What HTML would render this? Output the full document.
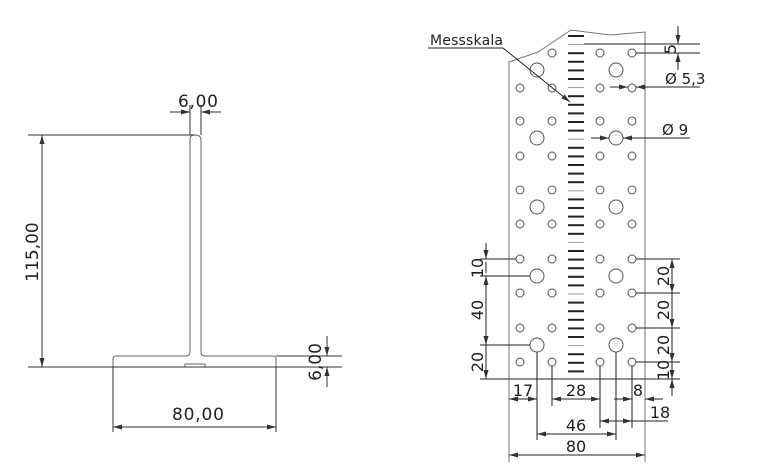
<!DOCTYPE html>
<html><head><meta charset="utf-8"><style>
html,body{margin:0;padding:0;background:#fff;}
svg{display:block;}
text{font-family:"DejaVu Sans","Liberation Sans",sans-serif;fill:#222;}
</style></head><body>
<svg width="762" height="470" viewBox="0 0 762 470" xmlns="http://www.w3.org/2000/svg">
<defs>
<marker id="a" viewBox="0 0 9 5" refX="9" refY="2.5" markerWidth="9" markerHeight="5" orient="auto-start-reverse" markerUnits="userSpaceOnUse"><path d="M0,0 L9,2.5 L0,5 z" fill="#333"/></marker>
</defs>
<g stroke="#333" stroke-width="1" fill="none">
<path d="M113,359 Q113,356 116,356 L186,356 Q190,356 190,352 L190,139 Q190,135 195,135 Q201,135 201,140 L201,352 Q201,356 205,356 L273,356 Q276,356 276,359 L276,367" stroke="#666"/>
<line x1="113" y1="359" x2="113" y2="367" stroke="#666"/>
<rect x="185" y="364" width="20" height="3" stroke="#666"/>
<line x1="28" y1="367" x2="342" y2="367"/>
<line x1="28" y1="135" x2="195" y2="135"/>
<line x1="42" y1="135" x2="42" y2="367" marker-start="url(#a)" marker-end="url(#a)"/>
<line x1="190" y1="105" x2="190" y2="135"/>
<line x1="201" y1="105" x2="201" y2="135"/>
<line x1="170" y1="112" x2="190" y2="112" marker-end="url(#a)"/>
<line x1="221" y1="112" x2="201" y2="112" marker-end="url(#a)"/>
<line x1="113" y1="367" x2="113" y2="432"/>
<line x1="276" y1="367" x2="276" y2="432"/>
<line x1="113" y1="427" x2="276" y2="427" marker-start="url(#a)" marker-end="url(#a)"/>
<line x1="276" y1="356" x2="342" y2="356"/>
<line x1="327" y1="336" x2="327" y2="356" marker-end="url(#a)"/>
<line x1="327" y1="387" x2="327" y2="367" marker-end="url(#a)"/>
</g>
<text x="178" y="107" font-size="17" textLength="40">6,00</text>
<text x="172" y="420" font-size="17" textLength="52">80,00</text>
<text transform="translate(38,252) rotate(-90)" font-size="17" text-anchor="middle">115,00</text>
<text transform="translate(321,362) rotate(-90)" font-size="17" text-anchor="middle">6,00</text>

<g stroke="#444" stroke-width="1" fill="none">
<path d="M509,462 L509,62 L538,52 L571,30 L610,35 L645,32 L645,462" stroke="#777"/>
</g>
<g stroke="#222" stroke-width="2">
<line x1="568" y1="36" x2="584" y2="36"/><line x1="568" y1="44.6" x2="584" y2="44.6" stroke="#999" stroke-width="1"/>
<line x1="568" y1="53.2" x2="584" y2="53.2"/><line x1="568" y1="61.8" x2="584" y2="61.8"/>
<line x1="568" y1="70.4" x2="584" y2="70.4"/><line x1="568" y1="79" x2="584" y2="79"/>
<line x1="568" y1="87.6" x2="584" y2="87.6" stroke="#999" stroke-width="1"/><line x1="568" y1="96.2" x2="584" y2="96.2"/>
<line x1="568" y1="104.8" x2="584" y2="104.8"/><line x1="568" y1="113.4" x2="584" y2="113.4"/>
<line x1="568" y1="122" x2="584" y2="122"/><line x1="568" y1="130.6" x2="584" y2="130.6"/>
<line x1="568" y1="139.2" x2="584" y2="139.2" stroke="#999" stroke-width="1"/><line x1="568" y1="147.8" x2="584" y2="147.8"/>
<line x1="568" y1="156.4" x2="584" y2="156.4"/><line x1="568" y1="165" x2="584" y2="165"/>
<line x1="568" y1="173.6" x2="584" y2="173.6"/><line x1="568" y1="182.2" x2="584" y2="182.2"/>
<line x1="568" y1="190.8" x2="584" y2="190.8" stroke="#999" stroke-width="1"/><line x1="568" y1="199.4" x2="584" y2="199.4"/>
<line x1="568" y1="208" x2="584" y2="208"/><line x1="568" y1="216.6" x2="584" y2="216.6"/>
<line x1="568" y1="225.2" x2="584" y2="225.2"/><line x1="568" y1="233.8" x2="584" y2="233.8"/>
<line x1="568" y1="242.4" x2="584" y2="242.4" stroke="#999" stroke-width="1"/><line x1="568" y1="251" x2="584" y2="251"/>
<line x1="568" y1="259.6" x2="584" y2="259.6"/><line x1="568" y1="268.2" x2="584" y2="268.2"/>
<line x1="568" y1="276.8" x2="584" y2="276.8"/><line x1="568" y1="285.4" x2="584" y2="285.4"/>
<line x1="568" y1="294" x2="584" y2="294" stroke="#999" stroke-width="1"/><line x1="568" y1="302.6" x2="584" y2="302.6"/>
<line x1="568" y1="311.2" x2="584" y2="311.2"/><line x1="568" y1="319.8" x2="584" y2="319.8"/>
<line x1="568" y1="328.4" x2="584" y2="328.4"/><line x1="568" y1="337" x2="584" y2="337"/>
<line x1="568" y1="345.6" x2="584" y2="345.6" stroke="#999" stroke-width="1"/><line x1="568" y1="354.2" x2="584" y2="354.2"/>
<line x1="568" y1="362.8" x2="584" y2="362.8"/><line x1="568" y1="371.4" x2="584" y2="371.4"/>
</g>
<g stroke="#555" stroke-width="1" fill="none">
<circle cx="552" cy="53" r="4"/><circle cx="600" cy="53" r="4"/><circle cx="632" cy="53" r="4"/>
<circle cx="520" cy="88" r="4"/><circle cx="552" cy="88" r="4"/><circle cx="600" cy="88" r="4"/><circle cx="632" cy="88" r="4"/>
<circle cx="520" cy="121" r="4"/><circle cx="552" cy="121" r="4"/><circle cx="600" cy="121" r="4"/><circle cx="632" cy="121" r="4"/>
<circle cx="520" cy="156" r="4"/><circle cx="552" cy="156" r="4"/><circle cx="600" cy="156" r="4"/><circle cx="632" cy="156" r="4"/>
<circle cx="520" cy="190" r="4"/><circle cx="552" cy="190" r="4"/><circle cx="600" cy="190" r="4"/><circle cx="632" cy="190" r="4"/>
<circle cx="520" cy="224" r="4"/><circle cx="552" cy="224" r="4"/><circle cx="600" cy="224" r="4"/><circle cx="632" cy="224" r="4"/>
<circle cx="520" cy="259" r="4"/><circle cx="552" cy="259" r="4"/><circle cx="600" cy="259" r="4"/><circle cx="632" cy="259" r="4"/>
<circle cx="520" cy="293" r="4"/><circle cx="552" cy="293" r="4"/><circle cx="600" cy="293" r="4"/><circle cx="632" cy="293" r="4"/>
<circle cx="520" cy="328" r="4"/><circle cx="552" cy="328" r="4"/><circle cx="600" cy="328" r="4"/><circle cx="632" cy="328" r="4"/>
<circle cx="520" cy="362" r="4"/><circle cx="552" cy="362" r="4"/><circle cx="600" cy="362" r="4"/><circle cx="632" cy="362" r="4"/>
<circle cx="537" cy="70" r="7"/><circle cx="616" cy="70" r="7"/>
<circle cx="537" cy="138" r="7"/><circle cx="616" cy="138" r="7"/>
<circle cx="537" cy="207" r="7"/><circle cx="616" cy="207" r="7"/>
<circle cx="537" cy="276" r="7"/><circle cx="616" cy="276" r="7"/>
<circle cx="537" cy="345" r="7"/><circle cx="616" cy="345" r="7"/>
</g>
<g stroke="#222" stroke-width="1" fill="none">
<line x1="428" y1="48" x2="503" y2="48"/>
<line x1="503" y1="48" x2="570" y2="102" marker-end="url(#a)"/>
<line x1="584" y1="44" x2="700" y2="44"/>
<line x1="636" y1="53" x2="700" y2="53"/>
<line x1="678" y1="26" x2="678" y2="44" marker-end="url(#a)"/>
<line x1="678" y1="70" x2="678" y2="53" marker-end="url(#a)"/>
<line x1="610" y1="87" x2="628" y2="87" marker-end="url(#a)"/>
<line x1="700" y1="87" x2="636" y2="87" marker-end="url(#a)"/>
<line x1="591" y1="138" x2="609" y2="138" marker-end="url(#a)"/>
<line x1="690" y1="138" x2="623" y2="138" marker-end="url(#a)"/>
<line x1="480" y1="259" x2="516" y2="259"/>
<line x1="480" y1="276" x2="530" y2="276"/>
<line x1="480" y1="345" x2="530" y2="345"/>
<line x1="480" y1="379" x2="680" y2="379"/>
<line x1="486" y1="243" x2="486" y2="259" marker-end="url(#a)"/>
<line x1="486" y1="276" x2="486" y2="345" marker-start="url(#a)" marker-end="url(#a)"/>
<line x1="486" y1="262" x2="486" y2="273"/>
<line x1="486" y1="345" x2="486" y2="379" marker-end="url(#a)"/>
<line x1="636" y1="259" x2="680" y2="259"/>
<line x1="636" y1="293" x2="680" y2="293"/>
<line x1="636" y1="328" x2="680" y2="328"/>
<line x1="636" y1="362" x2="680" y2="362"/>
<line x1="672" y1="259" x2="672" y2="293" marker-start="url(#a)" marker-end="url(#a)"/>
<line x1="672" y1="293" x2="672" y2="328" marker-end="url(#a)"/>
<line x1="672" y1="328" x2="672" y2="362" marker-end="url(#a)"/>
<line x1="672" y1="362" x2="672" y2="379" marker-end="url(#a)"/>
<line x1="672" y1="396" x2="672" y2="379" marker-end="url(#a)"/>
<line x1="537" y1="352" x2="537" y2="440"/>
<line x1="552" y1="366" x2="552" y2="406"/>
<line x1="600" y1="366" x2="600" y2="428"/>
<line x1="616" y1="352" x2="616" y2="440"/>
<line x1="632" y1="366" x2="632" y2="428"/>
<line x1="509" y1="399" x2="537" y2="399" marker-start="url(#a)" marker-end="url(#a)"/>
<line x1="552" y1="399" x2="600" y2="399" marker-start="url(#a)" marker-end="url(#a)"/>
<line x1="614" y1="399" x2="632" y2="399" marker-end="url(#a)"/>
<line x1="663" y1="399" x2="645" y2="399" marker-end="url(#a)"/>
<line x1="600" y1="421" x2="632" y2="421" marker-start="url(#a)" marker-end="url(#a)"/>
<line x1="632" y1="421" x2="668" y2="421"/>
<line x1="537" y1="434" x2="616" y2="434" marker-start="url(#a)" marker-end="url(#a)"/>
<line x1="509" y1="455" x2="645" y2="455" marker-start="url(#a)" marker-end="url(#a)"/>
</g>
<text x="430" y="45" font-size="14" textLength="73">Messskala</text>
<text transform="translate(676,49) rotate(-90)" font-size="16" text-anchor="middle">5</text>
<text x="665" y="84" font-size="15">Ø 5,3</text>
<text x="662" y="135" font-size="15">Ø 9</text>
<text transform="translate(483,268) rotate(-90)" font-size="16" text-anchor="middle">10</text>
<text transform="translate(483,310) rotate(-90)" font-size="16" text-anchor="middle">40</text>
<text transform="translate(483,362) rotate(-90)" font-size="16" text-anchor="middle">20</text>
<text transform="translate(669,276) rotate(-90)" font-size="16" text-anchor="middle">20</text>
<text transform="translate(669,310) rotate(-90)" font-size="16" text-anchor="middle">20</text>
<text transform="translate(669,345) rotate(-90)" font-size="16" text-anchor="middle">20</text>
<text transform="translate(669,370) rotate(-90)" font-size="16" text-anchor="middle">10</text>
<text x="523" y="396" font-size="16" text-anchor="middle">17</text>
<text x="576" y="396" font-size="16" text-anchor="middle">28</text>
<text x="638" y="396" font-size="16" text-anchor="middle">8</text>
<text x="660" y="418" font-size="16" text-anchor="middle">18</text>
<text x="576" y="431" font-size="16" text-anchor="middle">46</text>
<text x="576" y="452" font-size="16" text-anchor="middle">80</text>
</svg>
</body></html>
